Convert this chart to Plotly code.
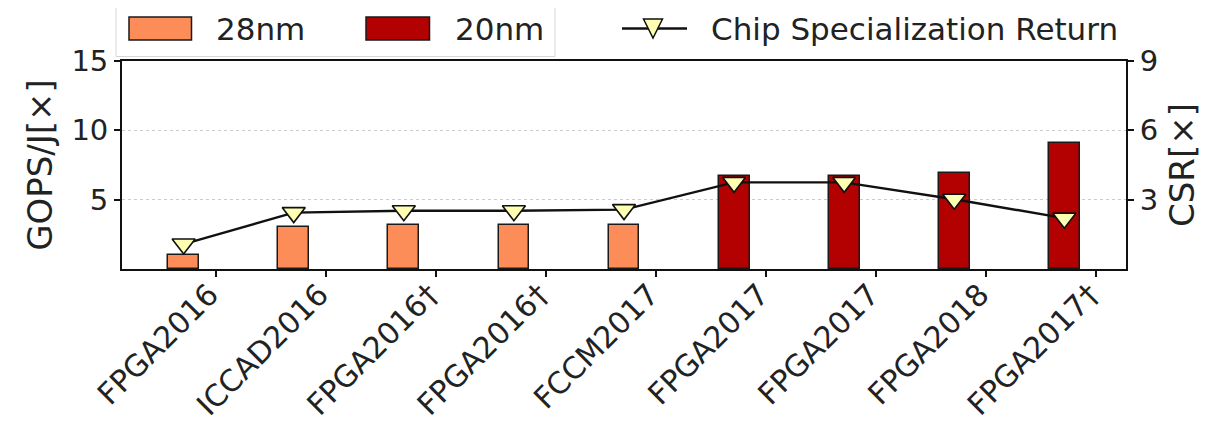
import numpy as np
import plotly.graph_objects as go

# ---------------- data ----------------
labels = ["FPGA2016", "ICCAD2016", "FPGA2016†", "FPGA2016†", "FCCM2017",
          "FPGA2017", "FPGA2017", "FPGA2018", "FPGA2017†"]
node = ["28nm", "28nm", "28nm", "28nm", "28nm", "20nm", "20nm", "20nm", "20nm"]
gops_per_j = [1.0, 3.0, 3.15, 3.15, 3.2, 6.7, 6.7, 6.95, 9.1]
csr = [1.08, 2.44, 2.52, 2.52, 2.57, 3.75, 3.75, 3.02, 2.2]
left_ticks = [5, 10, 15]
right_ticks = [3, 6, 9]

# ---------------- style ----------------
colors = {"28nm": "#fc8d59", "20nm": "#b30000"}
marker_fill = "#ffffb2"
FONT = "DejaVu Sans"
TXT = "#222222"

OFF = 8  # page body margin
W, H = 1208 - OFF, 426 - OFF
ML, MT = 122 - OFF, 61 - OFF
MR = W - (1126 - OFF)
MB = H - (269 - OFF)
PW, PH = W - ML - MR, H - MT - MB

pos = np.arange(len(labels))
tick_pos = pos + 0.29

fig = go.Figure()
fig.add_trace(go.Bar(
    x=pos, y=gops_per_j, width=0.28,
    marker=dict(color=[colors[n] for n in node],
                line=dict(color="#1a1a1a", width=1.5)),
    showlegend=False, hoverinfo="skip"))
fig.add_trace(go.Scatter(
    x=pos, y=csr, yaxis="y2", mode="lines+markers",
    line=dict(color="#111111", width=2.4),
    marker=dict(symbol="triangle-down", size=20, color=marker_fill,
                line=dict(color="#111111", width=1.6)),
    showlegend=False, hoverinfo="skip"))

# ---------------- manual legend (page-pixel helpers) ----------------
def px(x):
    return (x - OFF - ML) / PW

def py(y):
    return (H - MB - (y - OFF)) / PH

shapes = []
annotations = []
shapes.append(dict(type="rect", xref="paper", yref="paper",
                   x0=px(116), x1=px(555), y0=py(56.5), y1=py(-5),
                   line=dict(color="#d6d6d6", width=1), fillcolor="white",
                   layer="above"))
for x0, x1, key in [(129, 191.5, "28nm"), (366, 429.5, "20nm")]:
    shapes.append(dict(type="rect", xref="paper", yref="paper",
                       x0=px(x0), x1=px(x1), y0=py(40), y1=py(17),
                       line=dict(color="#1a1a1a", width=1.5),
                       fillcolor=colors[key], layer="above"))
shapes.append(dict(type="line", xref="paper", yref="paper",
                   x0=px(622), x1=px(687), y0=py(28.5), y1=py(28.5),
                   line=dict(color="#111111", width=2.4), layer="above"))
tri = "M {a},{b} L {c},{b} L {d},{e} Z".format(
    a=px(643.5), c=px(662.5), b=py(19), d=px(653), e=py(38))
shapes.append(dict(type="path", xref="paper", yref="paper", path=tri,
                   fillcolor=marker_fill, line=dict(color="#111111", width=1.5),
                   layer="above"))
for xl, txt in [(214, "28nm"), (453, "20nm"), (709, "Chip Specialization Return")]:
    annotations.append(dict(xref="paper", yref="paper", x=px(xl), y=py(29),
                            xanchor="left", yanchor="middle", showarrow=False,
                            text=txt, font=dict(family=FONT, size=31, color=TXT)))

axis_common = dict(showline=True, linecolor="#111111", linewidth=1.8,
                   ticks="outside", ticklen=6, tickwidth=1.5, tickcolor="#111111",
                   zeroline=False)

fig.update_layout(
    width=W, height=H,
    margin=dict(l=ML, r=MR, t=MT, b=MB, autoexpand=False),
    paper_bgcolor="white", plot_bgcolor="white",
    font=dict(family=FONT, color=TXT),
    xaxis=dict(range=[-0.56, 8.56], tickmode="array", tickvals=tick_pos,
               ticktext=labels, tickangle=-45, mirror=True, showgrid=False,
               tickfont=dict(family=FONT, size=30, color=TXT),
               ticklabelstandoff=-12, ticklabelshift=-6,
               **axis_common),
    yaxis=dict(range=[0, 15], tickmode="array", tickvals=left_ticks,
               showgrid=True, gridcolor="#cccccc", griddash="dot", gridwidth=1,
               mirror=False,
               tickfont=dict(family=FONT, size=29, color=TXT),
               title=dict(text="GOPS/J[×]", standoff=8,
                          font=dict(family=FONT, size=34, color=TXT)),
               **axis_common),
    yaxis2=dict(range=[0, 9], overlaying="y", side="right", tickmode="array",
                tickvals=right_ticks, showgrid=False,
                tickfont=dict(family=FONT, size=29, color=TXT),
                title=dict(text="CSR[×]", standoff=13,
                           font=dict(family=FONT, size=34, color=TXT)),
                **axis_common),
    shapes=shapes, annotations=annotations,
    bargap=0,
)

fig.write_html("out.html")
